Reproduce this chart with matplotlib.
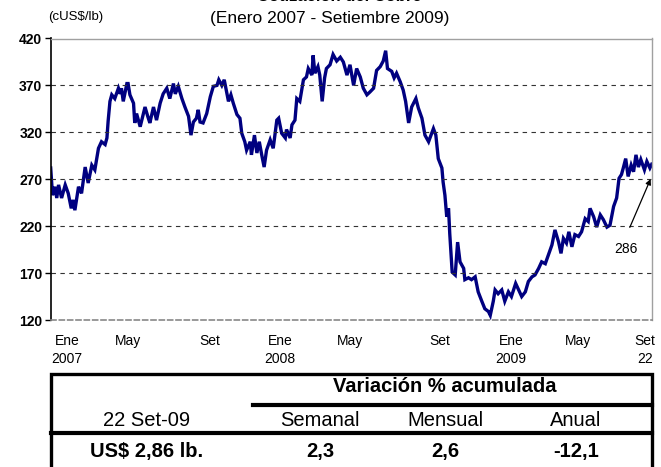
import matplotlib
matplotlib.use("Agg")
import matplotlib.pyplot as plt
from matplotlib.patches import Rectangle
from matplotlib.lines import Line2D

plt.rcParams["font.family"] = ["Liberation Sans", "DejaVu Sans"]

# dias desde 02-Ene-2007 y cotización (cUS$/lb)
dias = [0, 3, 7, 10, 13, 18, 24, 29, 34, 37, 40, 46, 51, 57, 62, 68, 73, 79, 84, 90,
        93, 95, 98, 101, 106, 112, 115, 117, 120, 126, 128, 131, 137, 139, 142, 148, 156, 161, 164, 170,
        175, 181, 186, 192, 197, 203, 206, 211, 217, 222, 228, 232, 236, 241, 244, 247, 252, 258, 264, 269,
        275, 278, 283, 287, 291, 294, 298, 302, 308, 313, 316, 321, 324, 330, 332, 337, 341, 345, 349, 353,
        357, 363, 368, 374, 377, 382, 388, 390, 396, 399, 404, 407, 412, 418, 423, 426, 432, 434, 437, 442,
        445, 449, 453, 456, 462, 467, 473, 479, 484, 490, 495, 501, 506, 512, 517, 523, 528, 534, 539, 545,
        550, 554, 557, 564, 568, 572, 578, 583, 587, 592, 597, 604, 608, 614, 619, 625, 629, 633, 637, 641,
        647, 649, 652, 655, 658, 660, 664, 669, 673, 677, 683, 685, 691, 696, 702, 707, 713, 718, 724, 727,
        732, 735, 740, 746, 751, 757, 762, 769, 774, 779, 785, 790, 796, 801, 807, 812, 818, 823, 829, 834,
        840, 844, 848, 853, 857, 862, 867, 873, 878, 884, 889, 892, 898, 903, 909, 914, 920, 925, 931, 936,
        940, 944, 947, 951, 955, 960, 964, 968, 972, 976, 982, 986, 991, 994]
cotiz = [282, 253, 262, 250, 264, 250, 264, 255, 239, 248, 237, 262, 255, 283, 266, 285, 280, 303, 310, 307,
         314, 332, 353, 360, 356, 367, 361, 367, 353, 372, 372, 360, 351, 330, 340, 326, 347, 336, 330, 347,
         333, 351, 361, 367, 356, 372, 361, 369, 356, 347, 337, 317, 331, 335, 344, 331, 330, 340, 358, 369,
         370, 376, 370, 376, 363, 353, 360, 351, 339, 335, 319, 310, 301, 310, 296, 317, 298, 310, 296, 283,
         301, 312, 303, 333, 335, 319, 314, 323, 314, 328, 333, 356, 353, 376, 379, 388, 381, 402, 383, 390,
         381, 353, 378, 388, 392, 403, 396, 400, 395, 381, 392, 370, 388, 379, 367, 360, 363, 367, 386, 390,
         396, 407, 388, 385, 378, 383, 374, 365, 353, 330, 347, 356, 346, 335, 317, 310, 317, 324, 317, 292,
         282, 267, 253, 230, 239, 212, 171, 168, 203, 182, 175, 163, 165, 163, 166, 150, 140, 132, 129, 125,
         140, 152, 148, 152, 140, 150, 145, 159, 152, 145, 150, 161, 166, 168, 175, 182, 180, 189, 200, 216,
         203, 191, 207, 202, 214, 198, 211, 209, 214, 228, 225, 239, 230, 219, 232, 227, 219, 221, 241, 250,
         271, 275, 282, 292, 273, 285, 278, 296, 283, 291, 280, 289, 282, 286]

etiquetas_x = ["Ene\n2007", "May", "Set", "Ene\n2008", "May", "Set", "Ene\n2009", "May", "Set\n22"]
pos_x = [27, 128, 263, 379, 495, 644, 761, 872, 983]
ticks_y = [120, 170, 220, 270, 320, 370, 420]

encab = ["Semanal", "Mensual", "Anual"]
variac = ["2,3", "2,6", "-12,1"]

W, H = 661, 467
fig = plt.figure(figsize=(W / 100, H / 100), dpi=100)
ax = fig.add_axes([50.7 / W, 1 - 320 / H, 601 / W, 281.5 / H])

ax.plot(dias, cotiz, color="#000080", lw=2.4, solid_joinstyle="miter")
ax.set_xlim(0, 994)
ax.set_ylim(120, 420)
ax.set_yticks(ticks_y)
ax.set_yticklabels([str(t) for t in ticks_y], fontweight="bold", fontsize=10)
ax.tick_params(axis="y", length=4, width=1, pad=2, direction="out")
ax.set_xticks(pos_x)
ax.set_xticklabels(etiquetas_x, fontsize=10,
                   family=["Liberation Sans Narrow", "Liberation Sans"])
ax.tick_params(axis="x", length=0, pad=10)
for lb in ax.get_xticklabels():
    lb.set_linespacing(1.4)

for t in ticks_y[1:-1]:
    ax.axhline(t, color="#333333", lw=0.8, ls=(0, (4, 4)))
ax.spines["left"].set_color("black")
ax.spines["left"].set_linewidth(1.2)
ax.spines["bottom"].set_color("#888888")
ax.spines["bottom"].set_linestyle((0, (3, 2)))
ax.spines["bottom"].set_linewidth(1.2)
for s in ["top", "right"]:
    ax.spines[s].set_color("#a0a0a0")
    ax.spines[s].set_linewidth(1.0)

ax.annotate("", xy=(994, 273), xytext=(956, 216),
            arrowprops=dict(arrowstyle="-|>", color="black", lw=0.9, mutation_scale=8))
ax.text(951, 196, "286", ha="center", va="center", fontsize=10)

# títulos (el título principal queda casi fuera del borde, como en el original)
fig.text(339 / W, 1 - 1.2 / H, "Cotización del Cobre", ha="center", va="baseline",
         fontsize=12, fontweight="bold")
fig.text(330 / W, 1 - 19 / H, "(Enero 2007 - Setiembre 2009)", ha="center", va="center", fontsize=12.5)
fig.text(76 / W, 1 - 17 / H, "(cUS$/lb)", ha="center", va="center", fontsize=9.5)

# tabla inferior
fig.patches.append(Rectangle((51 / W, -0.02), 601 / W, (0.02 + 1 - 374 / H), transform=fig.transFigure,
                             fill=False, edgecolor="black", lw=2.4))
fig.lines.append(Line2D([253 / W, 652 / W], [1 - 405 / H] * 2, transform=fig.transFigure, color="black", lw=3))
fig.lines.append(Line2D([51 / W, 652 / W], [1 - 433 / H] * 2, transform=fig.transFigure, color="black", lw=3))

fig.text(445 / W, 1 - 386 / H, "Variación % acumulada", ha="center", va="center",
         fontsize=14.5, fontweight="bold")
fig.text(147 / W, 1 - 420 / H, "22 Set-09", ha="center", va="center", fontsize=14.5)
fig.text(147 / W, 1 - 451 / H, "US$ 2,86 lb.", ha="center", va="center", fontsize=14.5, fontweight="bold")
for xc, e, v in zip([320, 445, 576], encab, variac):
    fig.text(xc / W, 1 - 420 / H, e, ha="center", va="center", fontsize=14.5)
    fig.text(xc / W, 1 - 451 / H, v, ha="center", va="center", fontsize=14.5, fontweight="bold")

fig.savefig("out.png", dpi=100)
